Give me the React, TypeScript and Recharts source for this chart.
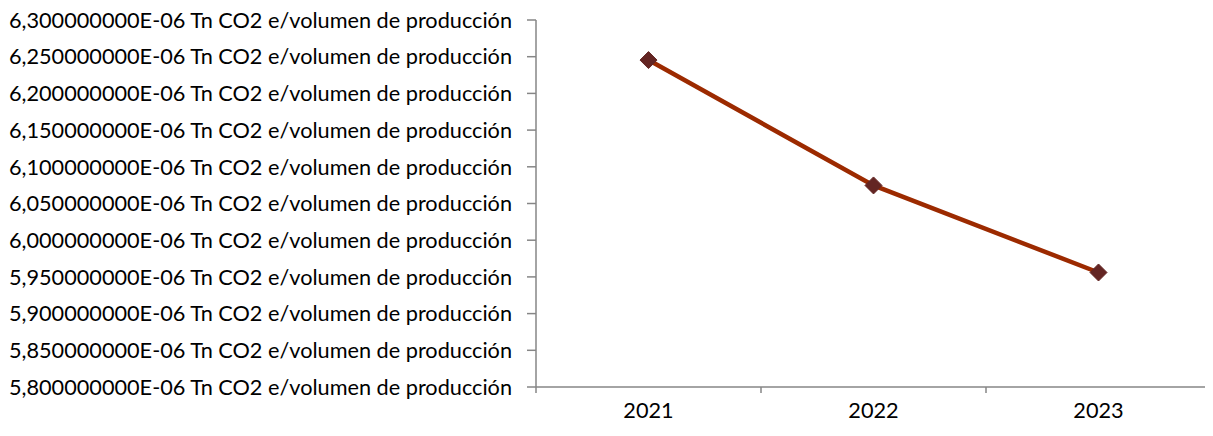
import React from 'react';
import { LineChart, Line, XAxis, YAxis } from 'recharts';

// emission intensity per year
const years = ['2021', '2022', '2023'];
const intensity = [6.2454e-6, 6.0746e-6, 5.956e-6];
const yTicks = [
	5.8e-6, 5.85e-6, 5.9e-6, 5.95e-6, 6.0e-6, 6.05e-6,
	6.1e-6, 6.15e-6, 6.2e-6, 6.25e-6, 6.3e-6,
];
const unit = 'Tn CO2 e/volumen de producción';

const data = years.map((year, i) => ({ year, value: intensity[i] }));

const FONT = 'Lato, "Open Sans", sans-serif';
const FONT_SIZE = 21.7;
const AXIS = '#868686';
const HALF_BAND = 112.5;

const formatTick = (v: number) =>
	(v * 1e6).toFixed(9).replace('.', ',') + 'E-06 ' + unit;

// diamond marker
const Diamond = (props: any) => {
	const { cx, cy } = props;
	if (cx == null || cy == null) return null;
	const r = 8.5;
	return (
		<polygon
			points={`${cx},${cy - r} ${cx + r},${cy} ${cx},${cy + r} ${cx - r},${cy}`}
			fill="#632523"
			stroke="#632523"
			strokeWidth={1}
		/>
	);
};

// category label in the middle, tick marks on the band edges
const YearTick = (props: any) => {
	const { x, y, payload, index } = props;
	const top = y - 8;
	return (
		<g>
			<line x1={x - HALF_BAND} y1={top} x2={x - HALF_BAND} y2={top + 6} stroke={AXIS} strokeWidth={1.5} />
			{index === years.length - 1 && (
				<line x1={x + HALF_BAND} y1={top} x2={x + HALF_BAND} y2={top + 6} stroke={AXIS} strokeWidth={1.5} />
			)}
			<text x={x} y={top + 23} dy="0.35em" textAnchor="middle" fill="#000" fontSize={FONT_SIZE} fontFamily={FONT}>
				{payload.value}
			</text>
		</g>
	);
};

export default function App() {
	return (
		<LineChart
			width={1205}
			height={420}
			data={data}
			margin={{ top: 12, right: 2, bottom: 0, left: 0 }}
		>
			<XAxis
				dataKey="year"
				axisLine={{ stroke: AXIS, strokeWidth: 1.5 }}
				tickLine={false}
				tick={<YearTick />}
				height={41}
				interval={0}
				padding={{ left: HALF_BAND, right: HALF_BAND }}
			/>
			<YAxis
				type="number"
				domain={[5.8e-6, 6.3e-6]}
				ticks={yTicks}
				interval={0}
				width={528}
				tickFormatter={formatTick}
				axisLine={{ stroke: AXIS, strokeWidth: 1.5 }}
				tickLine={{ stroke: AXIS, strokeWidth: 1.5 }}
				tickSize={9}
				tickMargin={15}
				tick={{ fill: '#000', fontSize: FONT_SIZE, fontFamily: FONT }}
			/>
			<Line
				type="linear"
				dataKey="value"
				stroke="#9C2A00"
				strokeWidth={4.5}
				dot={<Diamond />}
				activeDot={false}
				isAnimationActive={false}
			/>
		</LineChart>
	);
}
